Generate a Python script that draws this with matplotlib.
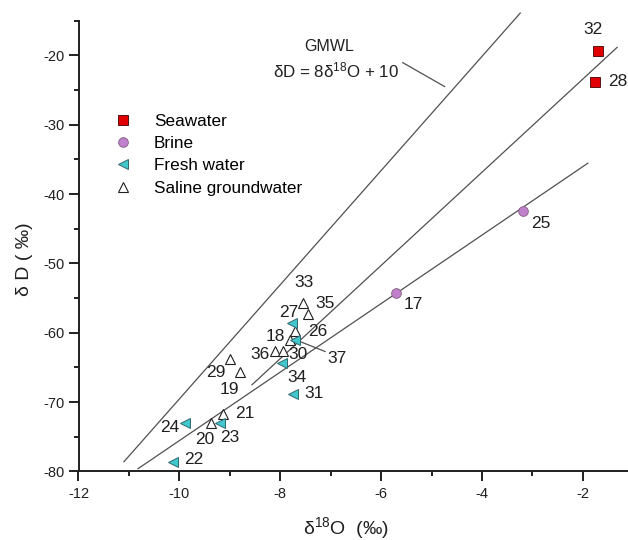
import matplotlib
matplotlib.use('Agg')
import matplotlib.pyplot as plt
from matplotlib.ticker import MultipleLocator

plt.rcParams['font.family'] = ['Liberation Sans', 'DejaVu Sans']
plt.rcParams['axes.unicode_minus'] = False
plt.rcParams['mathtext.fontset'] = 'custom'
plt.rcParams['mathtext.rm'] = 'Liberation Sans'
plt.rcParams['mathtext.it'] = 'Liberation Sans:italic'

# ---- data ----
sea_x = [-1.69, -1.75]
sea_y = [-19.4, -23.8]

brine_x = [-3.18, -5.71]
brine_y = [-42.5, -54.3]

fresh_x = [-7.77, -7.70, -7.97, -7.74, -9.89, -9.19, -10.12]
fresh_y = [-58.6, -61.0, -64.4, -68.8, -72.96, -73.05, -78.6]

saline_x = [-7.54, -7.44, -7.70, -7.80, -8.10, -7.94, -8.99, -8.79, -9.13, -9.38]
saline_y = [-55.7, -57.3, -59.8, -61.0, -62.7, -62.7, -63.8, -65.7, -71.7, -73.0]

# reference lines (end points)
gmwl_x = [-11.1, -3.24]
gmwl_y = [-78.6, -13.9]
mid_x = [-8.56, -1.32]
mid_y = [-67.5, -18.85]
evap_x = [-10.82, -1.90]
evap_y = [-79.6, -35.55]

# sample number labels
lab_text = ['32', '28', '25', '17', '33', '35', '27', '26', '18', '36', '30', '37',
            '34', '31', '29', '19', '21', '24', '20', '23', '22']
lab_x = [-1.80, -1.31, -2.83, -5.37, -7.52, -7.11, -7.84, -7.26, -8.10, -8.40, -7.64, -6.88,
         -7.67, -7.33, -9.27, -9.01, -8.70, -10.20, -9.49, -9.00, -9.72]
lab_y = [-16.3, -23.8, -44.3, -55.9, -52.8, -55.8, -57.1, -59.8, -60.5, -63.2, -63.2, -63.7,
         -66.4, -68.7, -65.7, -68.2, -71.6, -73.6, -75.4, -75.1, -78.3]

# leader lines
gmwl_lead_x = [-5.57, -4.74]
gmwl_lead_y = [-21.05, -24.5]
lead37_x = [-7.70, -7.11]
lead37_y = [-61.0, -62.7]

fig = plt.figure(figsize=(6.28, 5.40), dpi=100)
ax = fig.add_axes([0.125, 0.1269, 0.8753, 0.8348])

lc = '#505050'
ax.plot(gmwl_x, gmwl_y, color=lc, lw=0.9, clip_on=False, zorder=1)
ax.plot(mid_x, mid_y, color=lc, lw=0.9, clip_on=False, zorder=1)
ax.plot(evap_x, evap_y, color=lc, lw=0.9, clip_on=False, zorder=1)
ax.plot(gmwl_lead_x, gmwl_lead_y, color=lc, lw=0.9, zorder=1)
ax.plot(lead37_x, lead37_y, color=lc, lw=0.9, zorder=1)

ax.plot(sea_x, sea_y, 's', ms=6.5, mfc='#e00000', mec='#400000', mew=0.6,
        ls='none', label='Seawater', zorder=3, clip_on=False)
ax.plot(brine_x, brine_y, 'o', ms=7, mfc='#c080cc', mec='#806080', mew=0.6,
        ls='none', label='Brine', zorder=3)
ax.plot(fresh_x, fresh_y, '<', ms=7.5, mfc='#40c8cc', mec='#306870', mew=0.7,
        ls='none', label='Fresh water', zorder=3)
ax.plot(saline_x, saline_y, '^', ms=7.5, mfc='white', mec='#202020', mew=0.8,
        ls='none', label='Saline groundwater', zorder=2)

for t, x, y in zip(lab_text, lab_x, lab_y):
    ax.text(x, y, t, fontsize=12.5, ha='center', va='center', color='#202020', clip_on=False)

ax.text(-7.03, -18.7, 'GMWL', fontsize=11.5, ha='center', va='center', color='#202020')
ax.text(-6.90, -22.2, r'δD = 8δ$^{18}$O + 10', fontsize=12.2, ha='center', va='center',
        color='#202020')

ax.set_xlim(-12, -1.1)
ax.set_ylim(-80, -15)
ax.xaxis.set_major_locator(MultipleLocator(2))
ax.xaxis.set_minor_locator(MultipleLocator(1))
ax.yaxis.set_major_locator(MultipleLocator(10))
ax.yaxis.set_minor_locator(MultipleLocator(5))
for s in ['top', 'right']:
    ax.spines[s].set_visible(False)
for s in ['left', 'bottom']:
    ax.spines[s].set_linewidth(1.4)
    ax.spines[s].set_color('#202020')
ax.tick_params(which='major', direction='out', length=7, width=1.4, labelsize=10.5,
               colors='#202020')
ax.tick_params(which='minor', direction='out', length=3.5, width=1.4, colors='#202020')
ax.tick_params(axis='x', which='major', pad=4)
ax.tick_params(axis='y', which='major', pad=3)

ax.set_ylabel('δ D ( ‰)', fontsize=14, color='#202020')
ax.yaxis.set_label_coords(-0.082, 0.47)
ax.set_xlabel(r'δ$^{18}$O  (‰)', fontsize=14, color='#202020')
ax.xaxis.set_label_coords(0.4866, -0.096)

leg = ax.legend(loc='upper left', bbox_to_anchor=(0.066, 0.793), frameon=False, fontsize=12.3,
                handlelength=1.0, handletextpad=1.3, labelspacing=0.42, borderpad=0,
                borderaxespad=0)

fig.savefig('out.png', dpi=100)
